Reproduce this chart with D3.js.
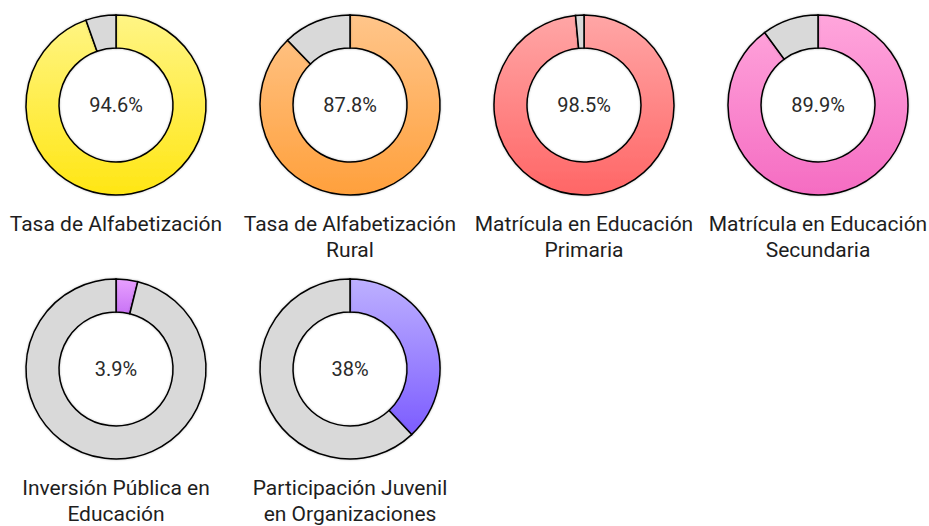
<!DOCTYPE html>
<html><head><meta charset="utf-8">
<script src="https://cdn.jsdelivr.net/npm/d3@7"></script>
<style>html,body{margin:0;padding:0;background:#fff;}svg{display:block;}</style>
</head><body>
<script>
const categories = [
  ["Tasa de Alfabetización"],
  ["Tasa de Alfabetización", "Rural"],
  ["Matrícula en Educación", "Primaria"],
  ["Matrícula en Educación", "Secundaria"],
  ["Inversión Pública en", "Educación"],
  ["Participación Juvenil", "en Organizaciones"]
];
const values = [94.6, 87.8, 98.5, 89.9, 3.9, 38];
const valueLabels = ["94.6%", "87.8%", "98.5%", "89.9%", "3.9%", "38%"];
const gradTop = ["#fff585", "#ffc58a", "#ffa6a6", "#ffa6dc", "#e8a0ff", "#bdb0ff"];
const gradBottom = ["#ffe614", "#ffa03c", "#ff6666", "#f56cc2", "#c873f5", "#7c5cff"];

const W = 929, H = 526;
const cols = 4;
const colX = d3.scaleLinear().domain([0, 3]).range([116, 818]);
const rowY = d3.scaleLinear().domain([0, 1]).range([105, 369]);
const rOuter = 90, rInner = 57;

const svg = d3.select("body").append("svg").attr("width", W).attr("height", H);
const defs = svg.append("defs");
values.forEach((v, i) => {
  const g = defs.append("linearGradient").attr("id", "g" + i)
    .attr("x1", 0).attr("y1", 0).attr("x2", 0).attr("y2", 1);
  g.append("stop").attr("offset", "0%").attr("stop-color", gradTop[i]);
  g.append("stop").attr("offset", "100%").attr("stop-color", gradBottom[i]);
});
const f = defs.append("filter").attr("id", "sh").attr("x", "-10%").attr("y", "-10%").attr("width", "120%").attr("height", "120%");
f.append("feDropShadow").attr("dx", 0).attr("dy", 0).attr("stdDeviation", 1.2).attr("flood-color", "#000").attr("flood-opacity", 0.25);

const pie = d3.pie().sort(null).value(d => d);
const arc = d3.arc().innerRadius(rInner).outerRadius(rOuter);

values.forEach((v, i) => {
  const cx = colX(i % cols), cy = rowY(Math.floor(i / cols));
  const g = svg.append("g").attr("transform", `translate(${cx},${cy})`);
  const arcs = pie([v, 100 - v]);
  g.selectAll("path").data(arcs).join("path")
    .attr("d", arc)
    .attr("fill", (d, j) => j === 0 ? `url(#g${i})` : "#d9d9d9")
    .attr("stroke", "#000").attr("stroke-width", 1.5)
    .attr("filter", "url(#sh)");
  g.append("text").attr("text-anchor", "middle").attr("dy", "0.35em")
    .attr("font-family", "Roboto, sans-serif").attr("font-size", 20).attr("fill", "#2a2a2a")
    .text(valueLabels[i]);
  const t = svg.append("text").attr("text-anchor", "middle")
    .attr("font-family", "Roboto, sans-serif").attr("font-size", 21).attr("fill", "#1e1e1e");
  categories[i].forEach((line, k) => {
    t.append("tspan").attr("x", cx).attr("y", cy + 126 + k * 26).text(line);
  });
});
</script>
</body></html>
